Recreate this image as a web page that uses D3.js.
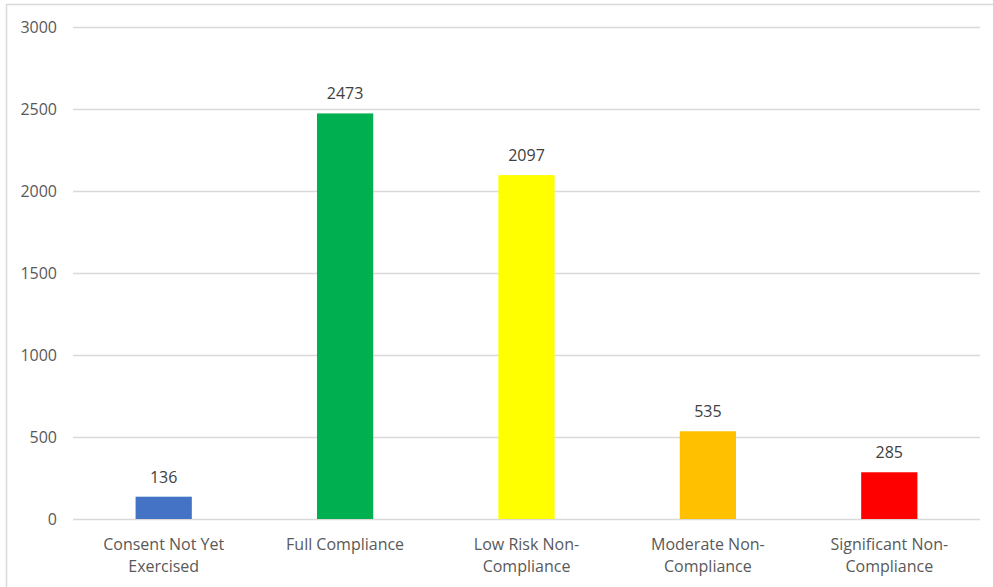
<!DOCTYPE html>
<html><head><meta charset="utf-8">
<script src="https://cdn.jsdelivr.net/npm/d3@7"></script>
<style>body{margin:0;background:#fff;} text{font-family:"Open Sans",sans-serif;}</style>
</head><body>
<svg id="chart" width="993" height="587"></svg>
<script>
const categories = ["Consent Not Yet Exercised","Full Compliance","Low Risk Non-Compliance","Moderate Non-Compliance","Significant Non-Compliance"];
const categoryLines = [["Consent Not Yet","Exercised"],["Full Compliance"],["Low Risk Non-","Compliance"],["Moderate Non-","Compliance"],["Significant Non-","Compliance"]];
const values = [136, 2473, 2097, 535, 285];
const colors = ["#4472C4","#00B050","#FFFF00","#FFC000","#FF0000"];
const yTicks = [0,500,1000,1500,2000,2500,3000];

(function(){
const svg = d3.select("#chart");
svg.append("rect").attr("x",6.5).attr("y",4.5).attr("width",1000).attr("height",600)
  .attr("fill","none").attr("stroke","#d9d9d9").attr("stroke-width",1.5);

const mL=73, mR=980, mT=27, mB=519;
const x = d3.scaleBand().domain(categories).range([mL,mR]).paddingInner(0.69).paddingOuter(0.345);
const y = d3.scaleLinear().domain([0,3000]).range([mB,mT]);

const yAxis = d3.axisLeft(y).tickValues(yTicks).tickFormat(d3.format("d")).tickSize(-(mR-mL)).tickPadding(16);
const gy = svg.append("g").attr("transform",`translate(${mL},0)`).call(yAxis);
gy.select(".domain").remove();
gy.selectAll(".tick line").attr("stroke","#d9d9d9").attr("stroke-width",1.5);
gy.selectAll(".tick text").attr("fill","#595959").style("font-size","16px").style("font-family","Open Sans");

svg.append("g").selectAll("rect").data(values).join("rect")
  .attr("x",(d,i)=>x(categories[i])).attr("width",x.bandwidth())
  .attr("y",d=>y(d)).attr("height",d=>y(0)-y(d)).attr("fill",(d,i)=>colors[i]);

svg.append("g").selectAll("text").data(values).join("text")
  .attr("x",(d,i)=>x(categories[i])+x.bandwidth()/2).attr("y",d=>y(d)-14)
  .attr("text-anchor","middle").attr("fill","#404040").style("font-size","16px").text(d=>d);

const xl = svg.append("g");
categoryLines.forEach((lines,i)=>{
  const cx = x(categories[i])+x.bandwidth()/2;
  const t = xl.append("text").attr("x",cx).attr("y",550)
    .attr("text-anchor","middle").attr("fill","#595959").style("font-size","16px");
  lines.forEach((l,j)=>t.append("tspan").attr("x",cx).attr("dy",j?22:0).text(l));
});
})();
</script>
</body></html>
